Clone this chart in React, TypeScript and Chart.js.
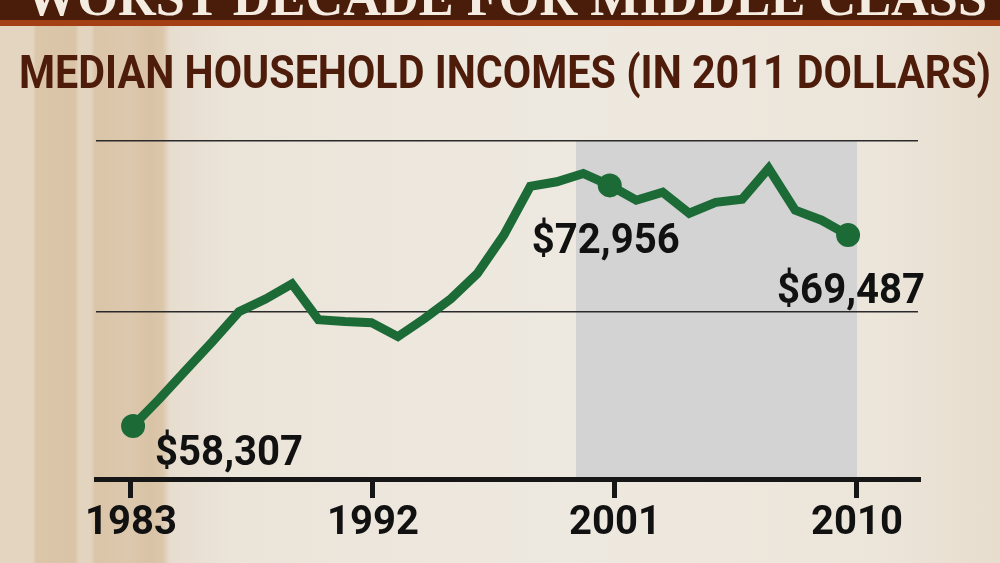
import React, { useEffect, useRef } from "react";
import { Chart, registerables } from "chart.js";

Chart.register(...registerables);

const bannerTitle = "WORST DECADE FOR MIDDLE CLASS";
const subtitle = "MEDIAN HOUSEHOLD INCOMES (IN 2011 DOLLARS)";

const years = [
  1983, 1984, 1985, 1986, 1987, 1988, 1989, 1990, 1991, 1992,
  1993, 1994, 1995, 1996, 1997, 1998, 1999, 2000, 2001, 2002,
  2003, 2004, 2005, 2006, 2007, 2008, 2009, 2010,
];
const incomes = [
  58307, 59900, 61590, 63250, 65000, 65740, 66630, 64530, 64420, 64360,
  63540, 64590, 65760, 67230, 69490, 72350, 72610, 73100, 72400, 71530,
  72000, 70770, 71410, 71590, 73400, 70950, 70360, 69487,
];
const tickYears = [1983, 1992, 2001, 2010];
const gridValues = [65000, 75000];
const labelYears = [1983, 2001, 2010];
const labelTexts = ["$58,307", "$72,956", "$69,487"];
const shadeRange = [1999.55, 2010];

const GREEN = "#1c6a36";
const AXIS = "#161616";

const labelStyles = [
  { dx: 22, dy: 39, align: "left" as CanvasTextAlign },
  { dx: -4, dy: 68, align: "center" as CanvasTextAlign },
  { dx: 3, dy: 68, align: "center" as CanvasTextAlign },
];

const decorPlugin = {
  id: "decor",
  beforeDraw(chart: any) {
    const { ctx, chartArea, scales } = chart;
    const w = chart.width;
    ctx.save();
    ctx.fillStyle = "#4a1d0b";
    ctx.fillRect(0, 0, w, 20);
    ctx.fillStyle = "#a43e14";
    ctx.fillRect(0, 20, w, 6);
    ctx.beginPath();
    ctx.rect(0, 0, w, 20);
    ctx.clip();
    ctx.fillStyle = "#f4ece0";
    ctx.font = 'bold 54px "Liberation Serif", serif';
    ctx.textBaseline = "alphabetic";
    ctx.textAlign = "left";
    ctx.fillText(bannerTitle, 25, 15, 962);
    ctx.restore();

    ctx.save();
    ctx.fillStyle = "#4e1c0a";
    ctx.font = "bold 47px Roboto";
    ctx.textBaseline = "alphabetic";
    ctx.textAlign = "left";
    ctx.fillText(subtitle, 19, 88, 972);

    const x2 = scales.x2;
    const a = x2.getPixelForValue(shadeRange[0]);
    const b = x2.getPixelForValue(shadeRange[1]);
    ctx.fillStyle = "#d3d3d3";
    ctx.fillRect(a, chartArea.top, b - a, chartArea.bottom - chartArea.top);
    ctx.restore();
  },
  afterDatasetsDraw(chart: any) {
    const { ctx } = chart;
    const meta = chart.getDatasetMeta(0);
    ctx.save();
    ctx.fillStyle = "#111111";
    ctx.font = "bold 42px Roboto";
    ctx.textBaseline = "alphabetic";
    labelYears.forEach((yr, i) => {
      const idx = years.indexOf(yr);
      const pt = meta.data[idx];
      if (!pt) return;
      const s = labelStyles[i];
      ctx.textAlign = s.align;
      ctx.fillText(labelTexts[i], pt.x + s.dx, pt.y + s.dy, 148);
    });
    ctx.restore();
  },
};

export default function App() {
  const ref = useRef<HTMLCanvasElement | null>(null);

  useEffect(() => {
    if (!ref.current) return;
    const chart = new Chart(ref.current, {
      type: "line",
      data: {
        datasets: [
          {
            data: years.map((y, i) => ({ x: y, y: incomes[i] })),
            borderColor: GREEN,
            backgroundColor: GREEN,
            borderWidth: 9,
            borderJoinStyle: "miter",
            tension: 0,
            fill: false,
            pointRadius: (c: any) =>
              labelYears.includes(years[c.dataIndex]) ? 12 : 0,
            pointBackgroundColor: GREEN,
            pointBorderWidth: 0,
            xAxisID: "x",
            yAxisID: "y",
          },
        ],
      },
      options: {
        responsive: false,
        animation: false,
        events: [],
        layout: { padding: { left: 96, right: 82, top: 141, bottom: 0 } },
        plugins: {
          legend: { display: false },
          title: { display: false },
          tooltip: { enabled: false },
        },
        scales: {
          x: {
            type: "linear",
            display: false,
            min: 1981.6,
            max: 2012.64,
          },
          x2: {
            type: "linear",
            position: "bottom",
            min: 1981.7,
            max: 2012.27,
            afterBuildTicks: (axis: any) => {
              axis.ticks = tickYears.map((v) => ({ value: v }));
            },
            afterFit: (axis: any) => {
              axis.height = 84;
            },
            border: { display: true, color: AXIS, width: 5 },
            grid: {
              drawOnChartArea: false,
              drawTicks: true,
              tickLength: 19,
              lineWidth: 5,
              color: AXIS,
            },
            ticks: {
              padding: 2,
              color: "#111111",
              font: { family: "Roboto", weight: "bold", size: 40 },
              callback: (v: any) => String(v),
              autoSkip: false,
              maxRotation: 0,
            },
          },
          y: {
            type: "linear",
            min: 55200,
            max: 75000,
            afterBuildTicks: (axis: any) => {
              axis.ticks = gridValues.map((v) => ({ value: v }));
            },
            afterFit: (axis: any) => {
              axis.width = 0;
            },
            border: { display: false },
            grid: { drawTicks: false, color: "#2a2a2a", lineWidth: 1.5 },
            ticks: { display: false },
          },
        },
      },
      plugins: [decorPlugin],
    });
    return () => chart.destroy();
  }, []);

  const bg =
    "linear-gradient(to right, #e4d5c0 0px, #e4d5c0 33px, #dcc6aa 36px, #dac4a7 75px, #e3d4bf 79px, #e3d4bf 91px, #dbc5a9 95px, #dcc8ad 128px, #d9c3a6 150px, #dcc7ac 163px, #e7ddcf 170px, #ebe4d9 230px, #eee9e0 560px, #ece5da 880px, #e7ddcd 1000px)";

  return (
    <div
      style={{
        position: "absolute",
        left: 0,
        top: 0,
        width: 1000,
        height: 563,
        background: bg,
        overflow: "hidden",
      }}
    >
      <canvas
        ref={ref}
        width={1000}
        height={563}
        style={{ display: "block", width: 1000, height: 563 }}
      />
    </div>
  );
}
